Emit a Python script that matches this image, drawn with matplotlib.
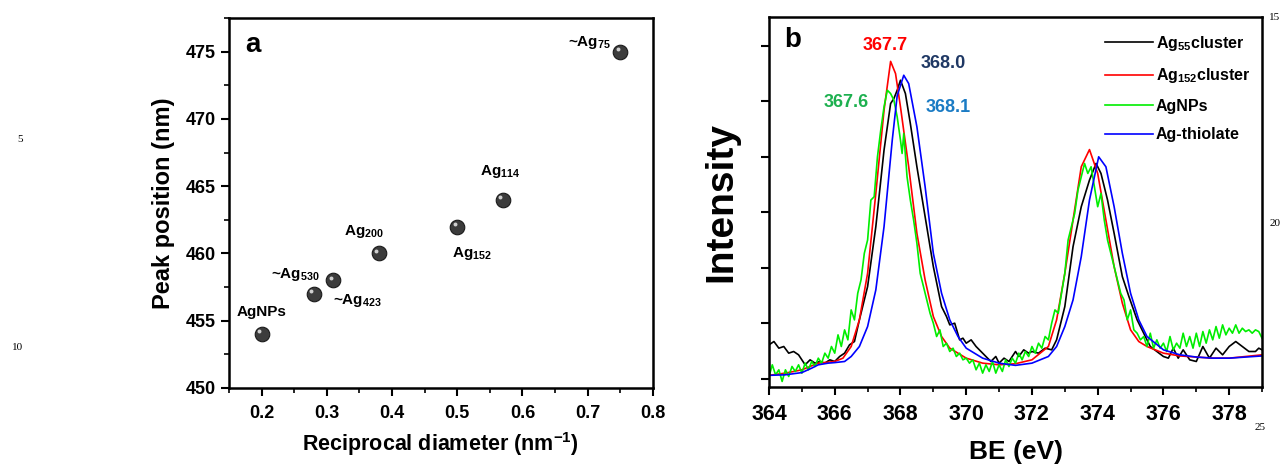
import numpy as np
import matplotlib
matplotlib.use("Agg")
import matplotlib.pyplot as plt
from matplotlib.ticker import MultipleLocator, NullFormatter

plt.rcParams["font.family"] = ["Liberation Sans", "DejaVu Sans"]
plt.rcParams["font.weight"] = "bold"
plt.rcParams["mathtext.fontset"] = "custom"
plt.rcParams["mathtext.rm"] = "Liberation Sans:bold"
plt.rcParams["mathtext.it"] = "Liberation Sans:bold"
plt.rcParams["mathtext.bf"] = "Liberation Sans:bold"

# ---- panel a data ----
recip_diam = [0.20, 0.28, 0.31, 0.38, 0.50, 0.57, 0.75]
peak_pos = [454, 457, 458, 460, 462, 464, 475]
point_labels = ["AgNPs", "~Ag$_{530}$", "~Ag$_{423}$", "Ag$_{200}$",
                "Ag$_{152}$", "Ag$_{114}$", "~Ag$_{75}$"]
label_xy = [(0.162, 455.65), (0.214, 458.4), (0.309, 456.5), (0.327, 461.6),
            (0.4925, 460.0), (0.535, 466.1), (0.67, 475.65)]

# ---- panel b data ----
be_blue = [364.0, 364.5, 365.0, 365.3, 365.5, 365.8, 366.0, 366.3, 366.5, 366.75,
           367.0, 367.25, 367.5, 367.75, 367.9, 368.1, 368.25, 368.5, 368.75, 369.0,
           369.25, 369.5, 369.75, 370.0, 370.5, 371.0, 371.5, 372.0, 372.5, 372.75,
           373.0, 373.25, 373.5, 373.75, 374.03, 374.25, 374.5, 374.75, 375.0, 375.25,
           375.5, 376.0, 376.5, 377.0, 377.5, 378.0, 378.5, 379.0]
int_blue = [0.06, 0.07, 0.11, 0.19, 0.25, 0.28, 0.29, 0.31, 0.40, 0.58,
            0.94, 1.60, 2.74, 4.30, 5.10, 5.47, 5.32, 4.54, 3.46, 2.26,
            1.54, 1.06, 0.76, 0.55, 0.37, 0.28, 0.24, 0.28, 0.40, 0.58,
            0.94, 1.42, 2.20, 3.22, 4.00, 3.82, 3.10, 2.26, 1.54, 1.06,
            0.76, 0.52, 0.43, 0.39, 0.37, 0.37, 0.39, 0.41]

be_red = [364.0, 364.5, 365.0, 365.5, 366.0, 366.25, 366.5, 366.75, 367.0, 367.25,
          367.5, 367.7, 367.85, 368.0, 368.25, 368.5, 368.75, 369.0, 369.25, 369.5,
          370.0, 370.5, 371.0, 371.5, 372.0, 372.5, 372.75, 373.0, 373.25, 373.5,
          373.75, 374.0, 374.25, 374.5, 374.75, 375.0, 375.25, 375.5, 376.0, 376.5,
          377.0, 377.5, 378.0, 378.5, 379.0]
int_red = [0.06, 0.10, 0.16, 0.28, 0.31, 0.37, 0.58, 1.06, 1.90, 3.34,
           4.84, 5.72, 5.50, 4.90, 3.82, 2.62, 1.78, 1.12, 0.76, 0.55,
           0.37, 0.28, 0.25, 0.27, 0.34, 0.58, 1.06, 1.90, 2.86, 3.82,
           4.13, 3.70, 2.86, 2.02, 1.36, 0.88, 0.67, 0.58, 0.46, 0.41,
           0.39, 0.37, 0.37, 0.40, 0.43]

be_black = [364.0, 364.15, 364.3, 364.45, 364.6, 364.75, 364.9, 365.0, 365.1, 365.25,
            365.4, 365.55, 365.7, 365.85, 366.0, 366.15, 366.3, 366.45, 366.6, 366.75,
            367.0, 367.25, 367.5, 367.7, 367.8, 367.9, 368.0, 368.15, 368.3, 368.5,
            368.75, 369.0, 369.25, 369.4, 369.5, 369.65, 369.8, 369.9, 370.0, 370.15,
            370.3, 370.5, 370.6, 370.75, 370.9, 371.0, 371.15, 371.3, 371.5, 371.6,
            371.75, 371.9, 372.0, 372.2, 372.4, 372.6, 372.75, 373.0, 373.25, 373.5,
            373.75, 373.95, 374.1, 374.3, 374.5, 374.75, 374.95, 375.2, 375.4, 375.6,
            375.8, 376.0, 376.15, 376.3, 376.45, 376.6, 376.8, 377.0, 377.2, 377.4,
            377.6, 377.8, 378.0, 378.2, 378.4, 378.6, 378.8, 378.9, 379.0]
int_black = [0.61, 0.67, 0.55, 0.58, 0.46, 0.49, 0.43, 0.34, 0.25, 0.34,
             0.28, 0.31, 0.28, 0.34, 0.31, 0.40, 0.46, 0.61, 0.67, 1.06,
             1.66, 2.74, 4.12, 4.96, 5.05, 5.20, 5.38, 5.14, 4.60, 3.82,
             2.92, 2.02, 1.30, 1.12, 0.97, 1.00, 0.70, 0.73, 0.64, 0.70,
             0.58, 0.46, 0.40, 0.31, 0.40, 0.28, 0.37, 0.31, 0.49, 0.40,
             0.52, 0.46, 0.49, 0.46, 0.55, 0.52, 0.70, 1.30, 2.38, 3.10,
             3.58, 3.88, 3.70, 3.22, 2.62, 1.84, 1.48, 1.06, 0.82, 0.58,
             0.49, 0.40, 0.37, 0.55, 0.37, 0.52, 0.34, 0.31, 0.58, 0.37,
             0.55, 0.43, 0.58, 0.67, 0.58, 0.49, 0.49, 0.55, 0.52]

be_green = [364.0, 364.1, 364.2, 364.3, 364.4, 364.5, 364.6, 364.7, 364.8, 364.9,
            365.0, 365.1, 365.2, 365.3, 365.4, 365.5, 365.6, 365.7, 365.8, 365.9,
            366.0, 366.1, 366.2, 366.3, 366.4, 366.5, 366.6, 366.7, 366.8, 366.9,
            367.0, 367.1, 367.2, 367.3, 367.4, 367.5, 367.6, 367.7, 367.8, 367.9,
            368.0, 368.05, 368.1, 368.2, 368.3, 368.4, 368.5, 368.6, 368.7, 368.8,
            368.9, 369.0, 369.1, 369.2, 369.3, 369.4, 369.5, 369.6, 369.7, 369.8,
            369.9, 370.0, 370.1, 370.2, 370.3, 370.4, 370.5, 370.6, 370.7, 370.8,
            370.9, 371.0, 371.1, 371.2, 371.3, 371.4, 371.5, 371.6, 371.7, 371.8,
            371.9, 372.0, 372.1, 372.2, 372.3, 372.4, 372.5, 372.6, 372.7, 372.8,
            372.9, 373.0, 373.1, 373.2, 373.3, 373.4, 373.5, 373.6, 373.7, 373.8,
            373.9, 374.0, 374.1, 374.2, 374.3, 374.4, 374.5, 374.6, 374.7, 374.8,
            374.9, 375.0, 375.1, 375.2, 375.3, 375.4, 375.5, 375.6, 375.7, 375.8,
            375.9, 376.0, 376.1, 376.2, 376.3, 376.4, 376.5, 376.6, 376.7, 376.8,
            376.9, 377.0, 377.1, 377.2, 377.3, 377.4, 377.5, 377.6, 377.7, 377.8,
            377.9, 378.0, 378.1, 378.2, 378.3, 378.4, 378.5, 378.6, 378.7, 378.8,
            378.9, 379.0]
int_green = [0.04, 0.25, 0.07, 0.16, -0.05, 0.16, 0.04, 0.22, 0.13, 0.25,
             0.10, 0.28, 0.16, 0.31, 0.22, 0.37, 0.28, 0.46, 0.37, 0.58,
             0.46, 0.79, 0.58, 0.88, 0.70, 1.24, 1.06, 1.54, 1.78, 2.26,
             2.50, 3.22, 3.28, 4.00, 4.48, 4.90, 5.20, 5.14, 5.02, 4.72,
             4.30, 4.06, 4.42, 3.64, 3.22, 2.86, 2.44, 1.90, 1.66, 1.42,
             1.18, 1.00, 0.76, 0.88, 0.58, 0.64, 0.49, 0.55, 0.40, 0.46,
             0.34, 0.37, 0.28, 0.34, 0.16, 0.28, 0.10, 0.25, 0.13, 0.31,
             0.10, 0.25, 0.13, 0.34, 0.22, 0.37, 0.28, 0.46, 0.34, 0.49,
             0.40, 0.58, 0.46, 0.64, 0.55, 0.76, 0.70, 1.00, 1.24, 1.18,
             1.54, 1.90, 2.50, 2.74, 2.98, 3.40, 3.64, 3.88, 3.70, 3.82,
             3.46, 3.10, 3.34, 2.86, 2.50, 2.26, 2.02, 1.78, 1.54, 1.42,
             1.06, 1.24, 0.88, 0.82, 0.70, 0.76, 0.58, 0.82, 0.55, 0.70,
             0.55, 0.64, 0.49, 0.76, 0.52, 0.64, 0.55, 0.82, 0.58, 0.76,
             0.55, 0.82, 0.58, 0.85, 0.64, 0.88, 0.70, 0.94, 0.73, 0.97,
             0.79, 0.91, 0.82, 0.97, 0.82, 0.91, 0.85, 0.88, 0.82, 0.88,
             0.85, 0.73]

fig = plt.figure(figsize=(12.84, 4.67), dpi=100)

# ---------------- panel a ----------------
ax1 = fig.add_axes([0.1783, 0.1692, 0.3302, 0.7923])
ax1.scatter(recip_diam, peak_pos, s=110, color="#3c3c3c", edgecolor="#1a1a1a",
            linewidth=0.8, zorder=3)
ax1.scatter(np.array(recip_diam) - 0.004, np.array(peak_pos) + 0.2, s=8,
            color="#d0d0d0", linewidth=0, zorder=4)
for lab, (lx, ly) in zip(point_labels, label_xy):
    ax1.text(lx, ly, lab, fontsize=11, fontweight="bold", ha="left", va="center")
ax1.text(0.175, 475.5, "a", fontsize=20, fontweight="bold", va="center")
ax1.set_xlim(0.15, 0.8)
ax1.set_ylim(450, 477.5)
ax1.xaxis.set_major_locator(MultipleLocator(0.1))
ax1.xaxis.set_minor_locator(MultipleLocator(0.05))
ax1.yaxis.set_major_locator(MultipleLocator(5))
ax1.yaxis.set_minor_locator(MultipleLocator(2.5))
ax1.set_xticks([0.2, 0.3, 0.4, 0.5, 0.6, 0.7, 0.8])
ax1.set_xticklabels(["0.2", "0.3", "0.4", "0.5", "0.6", "0.7", "0.8"])
ax1.set_xlabel("Reciprocal diameter (nm$^{-1}$)", fontsize=15.5, fontweight="bold",
               labelpad=6)
ax1.set_ylabel("Peak position (nm)", fontsize=17, fontweight="bold", labelpad=8)

# ---------------- panel b ----------------
ax2 = fig.add_axes([0.5989, 0.1713, 0.3840, 0.7923])
ax2.plot(be_black, int_black, color="black", lw=1.2, label="Ag$_{55}$cluster")
ax2.plot(be_red, int_red, color="#ff0000", lw=1.2, label="Ag$_{152}$cluster")
ax2.plot(be_green, int_green, color="#00ee00", lw=1.2, label="AgNPs")
ax2.plot(be_blue, int_blue, color="#0000ff", lw=1.2, label="Ag-thiolate")
ax2.set_xlim(364, 379)
ax2.set_ylim(-0.15, 6.52)
ax2.xaxis.set_major_locator(MultipleLocator(2))
ax2.xaxis.set_minor_locator(MultipleLocator(1))
ax2.yaxis.set_major_locator(MultipleLocator(1))
ax2.yaxis.set_major_formatter(NullFormatter())
ax2.set_xlabel("BE (eV)", fontsize=19, fontweight="bold", labelpad=11)
ax2.set_ylabel("Intensity", fontsize=28, fontweight="bold", labelpad=12)
ax2.text(364.45, 6.1, "b", fontsize=20, fontweight="bold", va="center")
ax2.text(367.52, 6.0, "367.7", color="#ff0000", fontsize=13, ha="center", va="center")
ax2.text(369.30, 5.69, "368.0", color="#1f3864", fontsize=13, ha="center", va="center")
ax2.text(366.36, 4.97, "367.6", color="#1db04f", fontsize=13, ha="center", va="center")
ax2.text(369.45, 4.88, "368.1", color="#1a7bc4", fontsize=13, ha="center", va="center")
leg = ax2.legend(loc="upper right", bbox_to_anchor=(1.0, 0.985), frameon=False,
                 fontsize=11.5, handlelength=3.0, handletextpad=0.2,
                 labelspacing=0.85, borderaxespad=0.3)

for ax in (ax1, ax2):
    for sp in ax.spines.values():
        sp.set_linewidth(1.8)
    ax.tick_params(which="major", direction="out", length=6, width=1.5,
                   labelsize=13)
    ax.tick_params(which="minor", direction="out", length=3.5, width=1.2)
    for lab in ax.get_xticklabels() + ax.get_yticklabels():
        lab.set_fontweight("bold")
ax2.tick_params(axis="x", labelsize=15.5, pad=6)
ax1.tick_params(axis="x", pad=6)

# margin line numbers from the source page
serif = ["Liberation Serif", "DejaVu Serif"]
for txt, px, py in [("5", 20, 140), ("10", 18, 348), ("15", 1275, 17),
                    ("20", 1275, 223), ("25", 1260, 428)]:
    fig.text(px / 1284, 1 - py / 467, txt, fontsize=8, family=serif,
             fontweight="normal", ha="center", va="center")

fig.savefig("out.png", dpi=100)
